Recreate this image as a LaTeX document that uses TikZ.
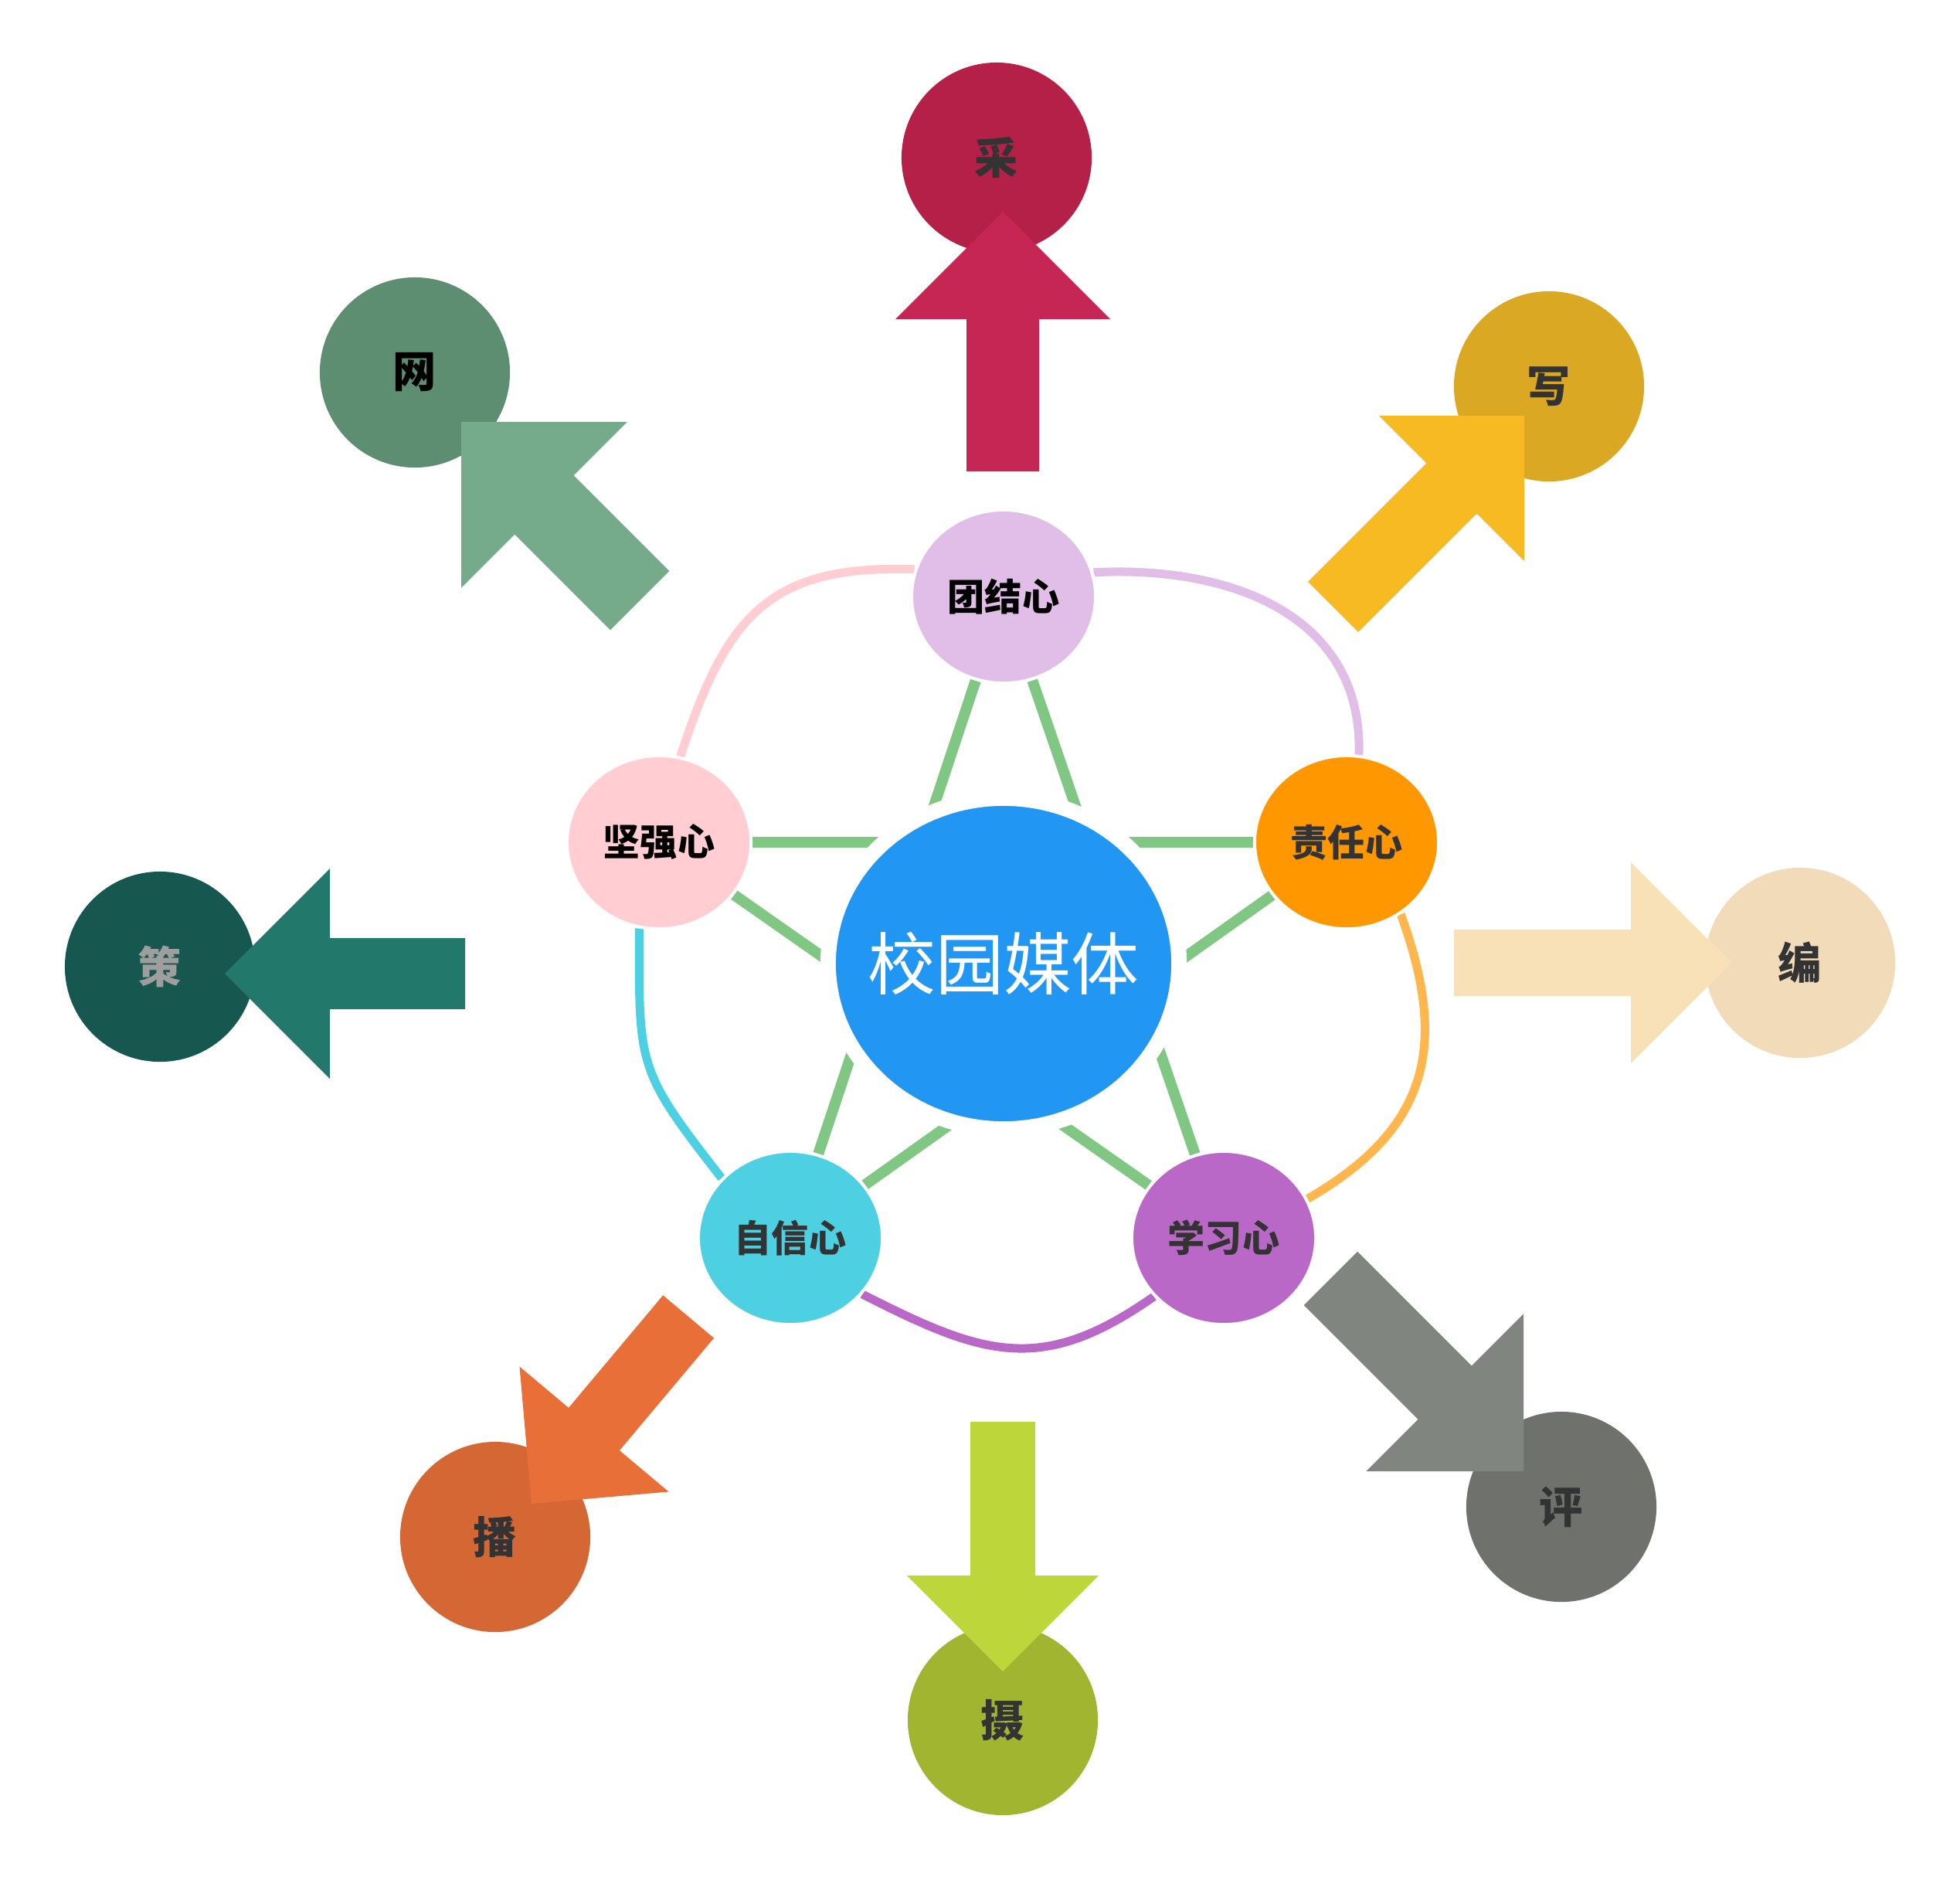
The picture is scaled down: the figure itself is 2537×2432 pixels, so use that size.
\documentclass[tikz,border=0pt]{standalone}
\usepackage{fontspec}
\newfontfamily\cjk{Noto Sans CJK SC}
\usetikzlibrary{shapes.geometric,backgrounds}

\definecolor{hubblue}{HTML}{2196F3}
\definecolor{tuancol}{HTML}{E1BEE7}
\definecolor{jiancol}{HTML}{FFCDD2}
\definecolor{zecol}{HTML}{FF9800}
\definecolor{zixcol}{HTML}{4DD0E1}
\definecolor{xuecol}{HTML}{BA68C8}
\definecolor{rimorange}{HTML}{FFB74D}
\definecolor{stargreen}{HTML}{81C784}
\definecolor{darktext}{HTML}{333333}
\definecolor{cetext}{HTML}{9E9E9E}
\definecolor{caicol}{HTML}{B52049}
\definecolor{caiarrow}{HTML}{C62653}
\definecolor{wangcol}{HTML}{5E8E71}
\definecolor{wangarrow}{HTML}{75AB8B}
\definecolor{xiecol}{HTML}{DAA822}
\definecolor{xiearrow}{HTML}{F8BA22}
\definecolor{biancol}{HTML}{F2DBB8}
\definecolor{bianarrow}{HTML}{F9E1B7}
\definecolor{pingcol}{HTML}{6F716D}
\definecolor{pingarrow}{HTML}{80867F}
\definecolor{shecol}{HTML}{A1B531}
\definecolor{shearrow}{HTML}{BDD63A}
\definecolor{bocol}{HTML}{D46733}
\definecolor{boarrow}{HTML}{E86F37}
\definecolor{cecol}{HTML}{16574F}
\definecolor{cearrow}{HTML}{21786B}

% tip x, tip y, angle, length, head, half shaft, colour
\newcommand{\blockarrow}[7]{%
  \fill[#7, shift={(#1,#2)}, rotate=#3] (0,0) -- (-#5,#5) -- (-#5,#6) -- (-#4,#6)
    -- (-#4,-#6) -- (-#5,-#6) -- (-#5,-#5) -- cycle;}

\begin{document}
\begin{tikzpicture}[x=0.01cm, y=-0.01cm,
  hub/.style={ellipse, fill=hubblue, draw=white, line width=0.2cm, minimum width=4.54cm, minimum height=4.28cm, inner sep=0pt, text=white, font=\cjk\fontsize{25}{30}\selectfont},
  heart/.style={ellipse, draw=white, line width=0.04cm, minimum width=2.38cm, minimum height=2.24cm, inner sep=0pt, font=\cjk\bfseries\fontsize{13.7}{16}\selectfont},
  task/.style={circle, minimum size=2.46cm, inner sep=0pt, text=darktext, font=\cjk\bfseries\fontsize{16}{19}\selectfont},
  pentline/.style={draw=stargreen, line width=0.14cm},
  rim/.style={line width=0.11cm}]

\useasboundingbox (0,0) rectangle (2537,2432);

\node[hub] (hub) at (1299,1247) {\makebox[0pt]{校园媒体}};
\node[heart, fill=tuancol] (tuan) at (1299,772) {团结心};
\node[heart, fill=jiancol] (jian) at (853,1090) {坚强心};
\node[heart, fill=zecol, text=darktext] (ze) at (1743,1090) {责任心};
\node[heart, fill=zixcol, text=darktext] (zix) at (1023,1602) {自信心};
\node[heart, fill=xuecol, text=darktext] (xue) at (1584,1602) {学习心};

\begin{pgfonlayer}{background}
\draw[pentline] (tuan) -- (zix);
\draw[pentline] (tuan) -- (xue);
\draw[pentline] (jian) -- (ze);
\draw[pentline] (jian) -- (xue);
\draw[pentline] (ze) -- (zix);
\draw[rim, draw=jiancol] (jian.76) to[out=72, in=178, looseness=1.25] (tuan.163);
\draw[rim, draw=tuancol] (tuan.15) to[out=3, in=88, looseness=1.1] (ze.82);
\draw[rim, draw=rimorange] (ze.307) to[out=-70, in=30, looseness=1.2] (xue.25);
\draw[rim, draw=xuecol] (xue.220) to[out=-145, in=-27, looseness=1.2] (zix.322);
\draw[rim, draw=zixcol] (zix.139) to[out=128, in=-90, looseness=1.35] (jian.257);
\end{pgfonlayer}

\node[task, fill=caicol] (cai) at (1290,204) {采};
\node[task, fill=wangcol, text=black] (wang) at (537,482) {网};
\node[task, fill=xiecol] (xie) at (2005,500) {写};
\node[task, fill=biancol] (bian) at (2330,1246) {编};
\node[task, fill=pingcol] (ping) at (2021,1950) {评};
\node[task, fill=shecol] (she) at (1298,2226) {摄};
\node[task, fill=bocol] (bo) at (641,1989) {播};
\node[task, fill=cecol, text=cetext] (ce) at (207,1251) {策};

\blockarrow{1298}{274}{90}{336}{139}{47}{caiarrow}
\blockarrow{1973}{538}{45}{350}{133}{46}{xiearrow}
\blockarrow{2241}{1246}{0}{359}{130}{43}{bianarrow}
\blockarrow{1972}{1904}{-45}{353}{144}{49}{pingarrow}
\blockarrow{1298}{2163}{-90}{323}{124}{42}{shearrow}
\blockarrow{688}{1946}{230}{316}{126}{43}{boarrow}
\blockarrow{597}{546}{135}{327}{152}{54}{wangarrow}
\blockarrow{291}{1260}{180}{311}{136}{46}{cearrow}
\end{tikzpicture}
\end{document}
